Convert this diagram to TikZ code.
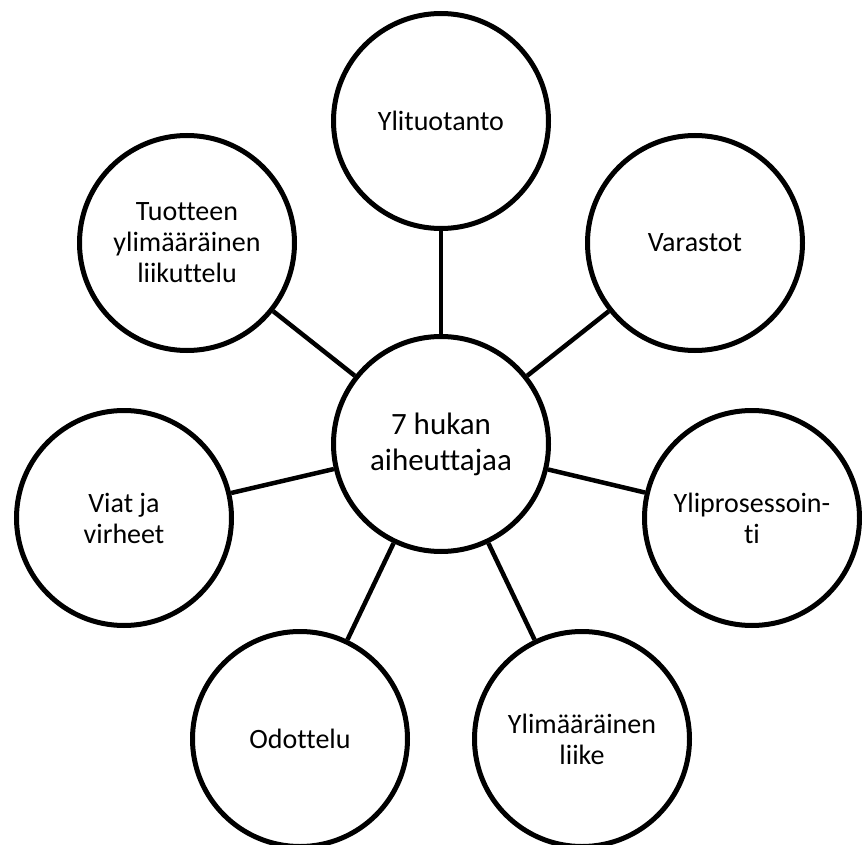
\documentclass[tikz,border=0pt]{standalone}
\usepackage{fontspec}
\setmainfont[Ligatures=NoCommon]{Carlito}
\begin{document}
\begin{tikzpicture}[x=1pt,y=-1pt,
  waste/.style={circle, draw=black, line width=5pt, fill=white,
    minimum size=215pt, inner sep=0pt, align=center,
    font=\fontsize{28}{31}\selectfont},
  hub/.style={waste, font=\fontsize{31}{36}\selectfont},
  spoke/.style={line width=4.5pt, black}]
\useasboundingbox (0,0) rectangle (862,845);

\node[hub] (c) at (441,444) {7 hukan\\aiheuttajaa};

\node[waste] (o1) at (441,121) {Ylituotanto};
\node[waste] (o2) at (695,243) {Varastot};
\node[waste] (o3) at (752,518) {Yliprosessoin-\\ti};
\node[waste] (o4) at (582,739) {Ylimääräinen\\liike};
\node[waste] (o5) at (300,739) {Odottelu};
\node[waste] (o6) at (124,518) {Viat ja\\virheet};
\node[waste] (o7) at (187,243) {Tuotteen\\ylimääräinen\\liikuttelu};

\foreach \n in {o1,o2,o3,o4,o5,o6,o7}
  \draw[spoke] (c) -- (\n);
\end{tikzpicture}
\end{document}
